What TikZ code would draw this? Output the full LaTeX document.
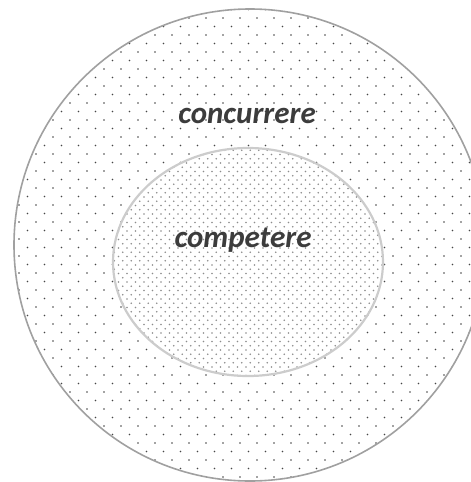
\documentclass[tikz,border=0pt]{standalone}
\usepackage{fontspec}
\setmainfont{Carlito}
\usetikzlibrary{positioning}
\definecolor{ringgray}{RGB}{160,160,160}
\definecolor{coregray}{RGB}{204,204,204}
\definecolor{dotdark}{RGB}{70,70,70}
\definecolor{dotlight}{RGB}{140,140,140}
\definecolor{labelgray}{RGB}{60,60,60}
\tikzset{
 ring/.style={draw=ringgray,line width=1.6pt},
 core/.style={draw=coregray,line width=2.2pt},
 term/.style={font=\fontsize{31}{36}\selectfont\bfseries\itshape,text=labelgray,inner sep=0pt}}
\begin{document}
\begin{tikzpicture}[x=1pt,y=-1pt]
\useasboundingbox (0,0) rectangle (471,482);
% outer area, sparse dots
\begin{scope}
\clip (250,245) circle[radius=236];
\foreach \j in {0,...,57}{
 \foreach \i in {0,...,28}{
  \fill[dotdark] ({\i*17+mod(\j,2)*8.5+2},{\j*8.5+1}) circle[radius=0.95];}}
\end{scope}
% inner area, dense dots
\fill[white] (248,262) ellipse[x radius=135,y radius=114];
\begin{scope}
\clip (248,262) ellipse[x radius=135,y radius=114];
\foreach \j in {0,...,55}{
 \foreach \i in {0,...,33}{
  \fill[dotlight] ({\i*8.5+mod(\j,2)*4.25+110},{\j*4.25+146}) circle[radius=0.9];}}
\end{scope}
\draw[ring] (250,245) circle[radius=236];
\draw[core] (248,262) ellipse[x radius=135,y radius=114];
\node[term] (concurrere) at (247,116) {concurrere};
\node[term] (competere) at (243,240) {competere};
\end{tikzpicture}
\end{document}
